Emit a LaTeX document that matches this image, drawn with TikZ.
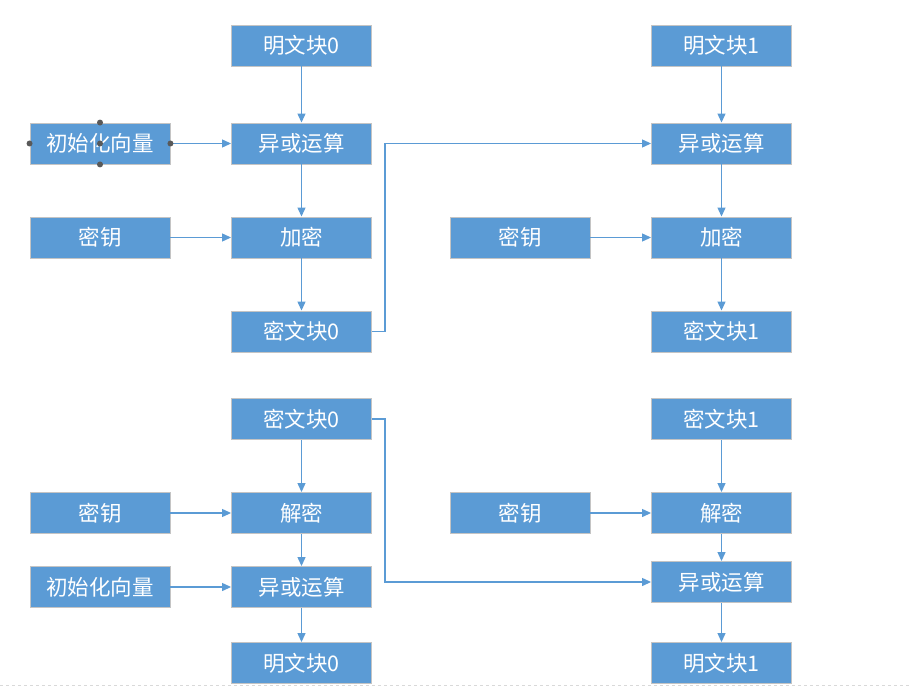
\documentclass[tikz,border=0pt]{standalone}
\usepackage{fontspec}
\setmainfont{Noto Sans CJK SC}
\usetikzlibrary{arrows.meta}
\definecolor{boxblue}{HTML}{5B9BD5}
\definecolor{boxedge}{HTML}{C4C4C4}
\definecolor{handle}{HTML}{595959}
\definecolor{pageline}{HTML}{D9D9D9}
\tikzset{
  blk/.style={draw=boxedge, line width=0.9pt, fill=boxblue, text=white,
    minimum width=140pt, minimum height=41pt, inner sep=0pt,
    font=\fontsize{21.5}{24}\selectfont},
  conn/.style={draw=boxblue, line width=1.2pt, -{Triangle[length=9pt,width=8pt]}},
  hdl/.style={fill=handle, draw=none, circle, inner sep=0pt, minimum size=6pt}
}
\begin{document}
\begin{tikzpicture}[x=1pt,y=-1pt]
\useasboundingbox (0,0) rectangle (909,695);
\draw[pageline, dashed, line width=0.8pt] (0,685) -- (909,685);
% top half
\node[blk] (p0) at (301.5,45.5) {明文块0};
\node[blk] (x0) at (301.5,143.5) {异或运算};
\node[blk] (e0) at (301.5,237.5) {加密};
\node[blk] (c0) at (301.5,331.5) {密文块0};
\node[blk] (iv1) at (100,143.5) {初始化向量};
\node[blk] (k1) at (100,237.5) {密钥};
\node[blk] (p1) at (721.5,45.5) {明文块1};
\node[blk] (x1) at (721.5,143.5) {异或运算};
\node[blk] (e1) at (721.5,237.5) {加密};
\node[blk] (c1) at (721.5,331.5) {密文块1};
\node[blk] (k2) at (520,237.5) {密钥};
% bottom half
\node[blk] (dc0) at (301.5,419) {密文块0};
\node[blk] (d0) at (301.5,513) {解密};
\node[blk] (dx0) at (301.5,587) {异或运算};
\node[blk] (dp0) at (301.5,663) {明文块0};
\node[blk] (dk1) at (100,513) {密钥};
\node[blk] (div) at (100,587) {初始化向量};
\node[blk] (dc1) at (721.5,419) {密文块1};
\node[blk] (d1) at (721.5,513) {解密};
\node[blk] (dx1) at (721.5,582) {异或运算};
\node[blk] (dp1) at (721.5,663) {明文块1};
\node[blk] (dk2) at (520,513) {密钥};
% connectors top
\draw[conn] (p0) -- (x0);
\draw[conn] (x0) -- (e0);
\draw[conn] (e0) -- (c0);
\draw[conn] (iv1) -- (x0);
\draw[conn] (k1) -- (e0);
\draw[conn] (c0.east) -- ++(13,0) |- (x1.west);
\draw[conn] (p1) -- (x1);
\draw[conn] (x1) -- (e1);
\draw[conn] (e1) -- (c1);
\draw[conn] (k2) -- (e1);
% connectors bottom
\draw[conn] (dc0) -- (d0);
\draw[conn] (d0) -- (dx0);
\draw[conn] (dx0) -- (dp0);
\draw[conn] (dk1) -- (d0);
\draw[conn] (div) -- (dx0);
\draw[conn] (dc0.east) -- ++(13,0) |- (dx1.west);
\draw[conn] (dc1) -- (d1);
\draw[conn] (d1) -- (dx1);
\draw[conn] (dx1) -- (dp1);
\draw[conn] (dk2) -- (d1);
% selection handles
\node[hdl] (h1) at (iv1.west) {};
\node[hdl] (h2) at (iv1.east) {};
\node[hdl] (h3) at (iv1.north) {};
\node[hdl] (h4) at (iv1.south) {};
\node[hdl] (h5) at (iv1.center) {};
\end{tikzpicture}
\end{document}
